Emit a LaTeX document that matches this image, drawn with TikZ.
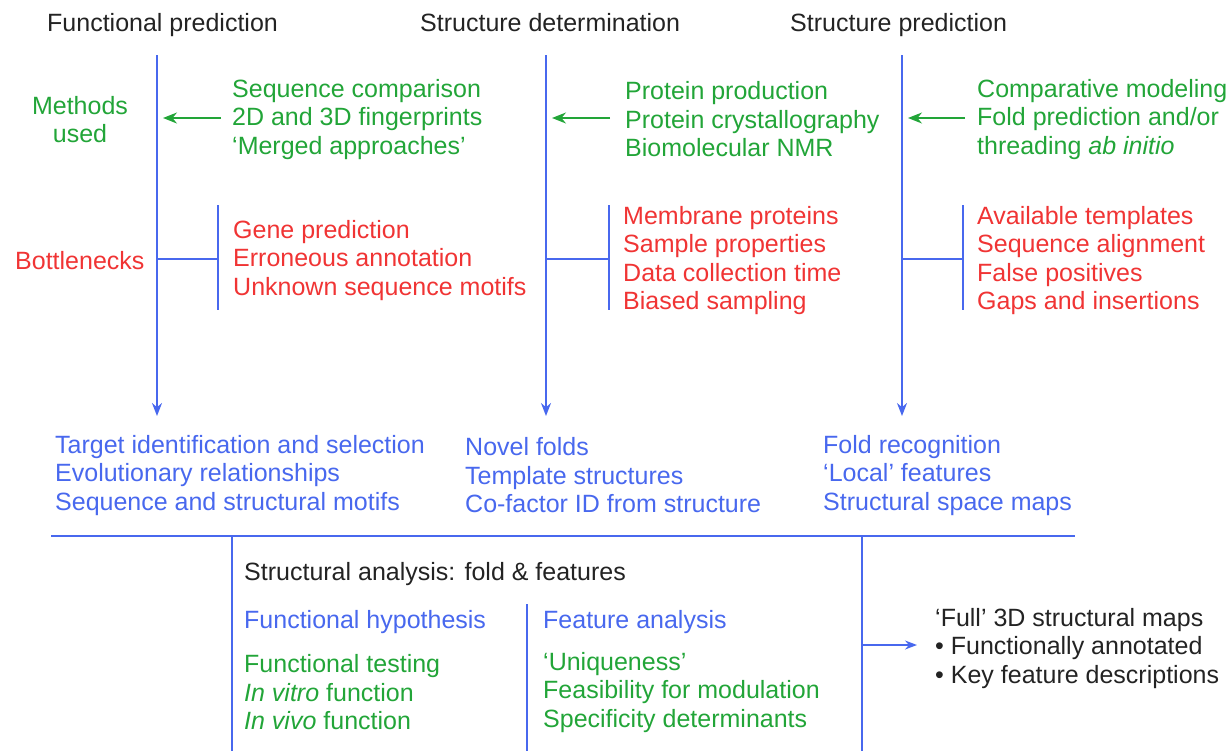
\documentclass[tikz,border=0pt]{standalone}
\usepackage{fontspec}
\setmainfont{Liberation Sans}
\usetikzlibrary{arrows.meta}
\definecolor{lblue}{RGB}{72,104,238}
\definecolor{lgreen}{RGB}{34,165,56}
\definecolor{lred}{RGB}{240,52,52}
\definecolor{dtext}{RGB}{35,35,35}
\begin{document}
\begin{tikzpicture}[x=1pt,y=-1pt,
  txt/.style={inner sep=0pt,anchor=west,align=left,yshift=-2.5pt,font=\fontsize{25}{28.5}\selectfont},
  hdr/.style={txt,text=dtext},
  toptitle/.style={inner sep=0pt,anchor=base west,text=dtext,font=\fontsize{25}{28.5}\selectfont},
  gtxt/.style={txt,text=lgreen},
  rtxt/.style={txt,text=lred},
  btxt/.style={txt,text=lblue},
  bline/.style={draw=lblue,line width=1.8pt},
  barrow/.style={bline,-{Stealth[length=13pt,width=10pt]}},
  garrow/.style={draw=lgreen,line width=1.8pt,-{Stealth[length=14pt,width=11pt]}},
  thin/.style={draw=lblue,line width=1.3pt}]
\useasboundingbox (0,0) rectangle (1232,750);
% headers
\node[toptitle] (h1) at (47,31) {Functional prediction};
\node[toptitle] (h2) at (420,31) {Structure determination};
\node[toptitle] (h3) at (790,31) {Structure prediction};
% vertical flow lines
\coordinate (t1) at (157,55); \coordinate (b1) at (157,416);
\coordinate (t2) at (546,55); \coordinate (b2) at (546,416);
\coordinate (t3) at (902,55); \coordinate (b3) at (902,416);
\draw[barrow] (t1) -- (b1);
\draw[barrow] (t2) -- (b2);
\draw[barrow] (t3) -- (b3);
% methods used
\node[txt,text=lgreen,align=center,anchor=center] (mu) at (80,117) {Methods\\used};
\node[gtxt] (g1) at (232,117) {Sequence comparison\\2D and 3D fingerprints\\‘Merged approaches’};
\node[gtxt] (g2) at (625,117) {Protein production\\Protein crystallography\\Biomolecular NMR};
\node[gtxt] (g3) at (977,117) {Comparative modeling\\Fold prediction and/or\\threading \textit{ab initio}};
\coordinate (ga1) at (221,118); \coordinate (gb1) at (163,118);
\coordinate (ga2) at (610,118); \coordinate (gb2) at (552,118);
\coordinate (ga3) at (965,118); \coordinate (gb3) at (908,118);
\draw[garrow] (ga1) -- (gb1);
\draw[garrow] (ga2) -- (gb2);
\draw[garrow] (ga3) -- (gb3);
% bottlenecks
\node[rtxt] (bn) at (15,258) {Bottlenecks};
\node[rtxt] (r1) at (233,258) {Gene prediction\\Erroneous annotation\\Unknown sequence motifs};
\node[rtxt] (r2) at (623,258) {Membrane proteins\\Sample properties\\Data collection time\\Biased sampling};
\node[rtxt] (r3) at (977,258) {Available templates\\Sequence alignment\\False positives\\Gaps and insertions};
\coordinate (k1a) at (218,205); \coordinate (k1b) at (218,310); \coordinate (k1m) at (218,259);
\coordinate (k2a) at (609,205); \coordinate (k2b) at (609,310); \coordinate (k2m) at (609,259);
\coordinate (k3a) at (963,205); \coordinate (k3b) at (963,310); \coordinate (k3m) at (963,259);
\coordinate (s1) at (157,259); \coordinate (s2) at (546,259); \coordinate (s3) at (902,259);
\draw[bline] (k1a) -- (k1b); \draw[bline] (s1) -- (k1m);
\draw[bline] (k2a) -- (k2b); \draw[bline] (s2) -- (k2m);
\draw[bline] (k3a) -- (k3b); \draw[bline] (s3) -- (k3m);
% outcomes
\node[btxt] (o1) at (55,473) {Target identification and selection\\Evolutionary relationships\\Sequence and structural motifs};
\node[btxt] (o2) at (465,473) {Novel folds\\Template structures\\Co-factor ID from structure};
\node[btxt] (o3) at (823,473) {Fold recognition\\‘Local’ features\\Structural space maps};
% structural analysis box
\coordinate (hl) at (51,536); \coordinate (hr) at (1075,536);
\draw[bline] (hl) -- (hr);
\coordinate (bl1) at (232,536); \coordinate (bl2) at (232,752);
\coordinate (br1) at (862,536); \coordinate (br2) at (862,752);
\coordinate (dv1) at (527,604); \coordinate (dv2) at (527,752);
\draw[thin] (bl1) -- (bl2);
\draw[thin] (br1) -- (br2);
\draw[thin] (dv1) -- (dv2);
\node[hdr] (sa) at (244,572) {Structural analysis: fold \& features};
\node[btxt] (fh) at (244,620) {Functional hypothesis};
\node[btxt] (fa) at (543,620) {Feature analysis};
\node[gtxt] (ft) at (244,690) {Functional testing\\\textit{In vitro} function\\\textit{In vivo} function};
\node[gtxt] (fu) at (543,690) {‘Uniqueness’\\Feasibility for modulation\\Specificity determinants};
% full maps
\node[hdr] (fm) at (935,646) {‘Full’ 3D structural maps\\\textbullet\ Functionally annotated\\\textbullet\ Key feature descriptions};
\coordinate (fa1) at (862,645); \coordinate (fa2) at (917,645);
\draw[thin,-{Stealth[length=12pt,width=9pt]}] (fa1) -- (fa2);
\end{tikzpicture}
\end{document}
